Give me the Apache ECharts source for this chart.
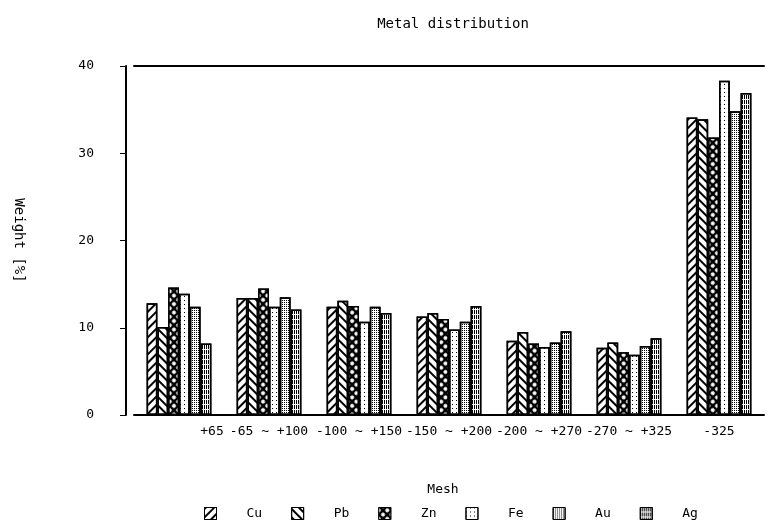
<!DOCTYPE html>
<html>
<head>
<meta charset="utf-8">
<script src="https://cdn.jsdelivr.net/npm/echarts@6/dist/echarts.min.js"></script>
<style>html,body{margin:0;padding:0;background:#fff}#c{width:769px;height:529px}</style>
</head>
<body>
<div id="c"></div>
<script>
var categories = ['+65', '-65 ~ +100', '-100 ~ +150', '-150 ~ +200', '-200 ~ +270', '-270 ~ +325', '-325'];
var cu = [12.8, 13.4, 12.4, 11.3, 8.5, 7.7, 34.1];
var pb = [10.1, 13.4, 13.1, 11.7, 9.5, 8.3, 33.9];
var zn = [14.6, 14.5, 12.5, 11.0, 8.2, 7.2, 31.8];
var fe = [13.9, 12.4, 10.7, 9.8, 7.8, 6.9, 38.3];
var au = [12.4, 13.5, 12.4, 10.7, 8.3, 7.9, 34.8];
var ag = [8.2, 12.1, 11.7, 12.5, 9.6, 8.8, 36.9];
var yTicks = [0, 10, 20, 30, 40];

var FONT = 'DejaVu Sans Mono';
function bar(name, data, color, decal) {
  return {
    name: name, type: 'bar', data: data,
    barGap: '0%', barCategoryGap: '28%',
    itemStyle: { color: color, borderColor: '#000', borderWidth: 1.5, decal: decal }
  };
}
var chart = echarts.init(document.getElementById('c'), null, { renderer: 'canvas' });
chart.setOption({
  backgroundColor: '#fff',
  animation: false,
  title: {
    text: 'Metal distribution', left: 448, top: 12, textAlign: 'center',
    textStyle: { fontFamily: FONT, fontSize: 14, fontWeight: 'normal', color: '#000' }
  },
  legend: {
    bottom: 4, left: 199, icon: 'rect',
    itemWidth: 12, itemHeight: 12, itemGap: 29,
    itemStyle: { borderWidth: 1, borderColor: '#000' },
    textStyle: { fontFamily: FONT, fontSize: 13, color: '#000', padding: [0, 0, 0, 25] },
    data: ['Cu', 'Pb', 'Zn', 'Fe', 'Au', 'Ag']
  },
  grid: { left: 134, right: 5, top: 66, bottom: 114 },
  xAxis: [{
    type: 'category', data: categories,
    name: 'Mesh', nameLocation: 'middle', nameGap: 68,
    nameTextStyle: { fontFamily: FONT, fontSize: 13, color: '#000', padding: [0, 12, 0, 0] },
    axisLine: { lineStyle: { color: '#000', width: 2 } },
    axisTick: { alignWithLabel: true, length: 7, lineStyle: { color: '#000', width: 1.5 } },
    axisLabel: {
      interval: 0, margin: 10, color: '#000', fontFamily: FONT, fontSize: 13,
      formatter: function (v, i) { return i === 0 ? '{a|' + v + '}' : v; },
      rich: { a: { fontFamily: FONT, fontSize: 13, color: '#000', padding: [0, 0, 0, 66] } }
    }
  }, {
    type: 'category', data: categories, position: 'top',
    axisLine: { lineStyle: { color: '#000', width: 2 } },
    axisTick: { show: false }, axisLabel: { show: false }
  }],
  yAxis: {
    type: 'value', min: yTicks[0], max: yTicks[yTicks.length - 1], interval: 10, offset: 8,
    name: 'Weight [%]', nameLocation: 'middle', nameGap: 100, nameRotate: -90,
    nameTextStyle: { fontFamily: FONT, fontSize: 14, color: '#000' },
    axisLine: { show: true, lineStyle: { color: '#000', width: 2 } },
    axisTick: { show: true, length: 6, lineStyle: { color: '#000' } },
    splitLine: { show: false },
    axisLabel: { margin: 32, color: '#000', fontFamily: FONT, fontSize: 13 }
  },
  series: [
    bar('Cu', cu, '#fff', { color: '#000', symbol: 'rect', symbolSize: 1, dashArrayX: [1, 0], dashArrayY: [1.5, 3.5], rotation: -Math.PI / 4 }),
    bar('Pb', pb, '#fff', { color: '#000', symbol: 'rect', symbolSize: 1, dashArrayX: [1, 0], dashArrayY: [1.5, 3.5], rotation: Math.PI / 4 }),
    bar('Zn', zn, '#000', { color: '#fff', symbol: 'circle', symbolSize: 1, dashArrayX: [3.5, 1.2], dashArrayY: [3.5, 1.2], rotation: Math.PI / 4 }),
    bar('Fe', fe, '#fff', { color: '#000', symbol: 'rect', symbolSize: 1, dashArrayX: [1, 3], dashArrayY: [1, 3], rotation: 0 }),
    bar('Au', au, '#fff', { color: '#000', symbol: 'rect', symbolSize: 1, dashArrayX: [1, 1], dashArrayY: [1, 1], rotation: 0 }),
    bar('Ag', ag, '#fff', { color: '#000', symbol: 'rect', symbolSize: 1, dashArrayX: [1, 1], dashArrayY: [4, 1], rotation: 0 })
  ]
});
</script>
</body>
</html>
